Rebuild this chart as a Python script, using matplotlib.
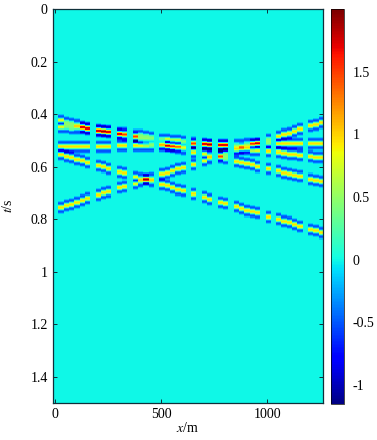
import numpy as np
import matplotlib
matplotlib.use('Agg')
import matplotlib.pyplot as plt
from matplotlib.colors import ListedColormap

plt.rcParams['font.family'] = ['Liberation Serif', 'DejaVu Serif']
plt.rcParams['mathtext.fontset'] = 'stix'

# Section geometry
dt = 0.004
n_samples = 376
n_traces = 51
dx = 25.0

# Traces that carry signal (the rest are dead traces)
traces = [1, 2, 3, 4, 5, 6, 8, 9, 10, 12, 13, 15, 16, 17, 18, 20, 21, 22, 23, 24, 26, 28, 29,
          31, 32, 34, 35, 36, 37, 38, 40, 42, 43, 44, 45, 46, 48, 49, 50]

# Event times picked from the section [s]
event_1 = [.423, .430, .436, .442, .448, .453, .462, .465, .469, .476, .480, .489, .494, .499, .504,
           .513, .518, .523, .527, .532, .542, .551, .556, .565, .570, .580, .584, .589, .594, .599,
           .608, .618, .622, .627, .632, .637, .646, .651, .656]
event_2 = [.449, .450, .451, .452, .453, .454, .460, .463, .466, .471, .474, .479, .482, .485, .488,
           .494, .496, .499, .501, .504, .508, .513, .515, .520, .522, .527, .529, .532, .534, .537,
           .541, .546, .548, .551, .553, .555, .560, .563, .565]
event_flat = [.525, .525, .524, .524, .524, .524, .523, .523, .523, .522, .522, .521, .521, .520, .520,
              .519, .519, .519, .518, .518, .517, .517, .516, .516, .515, .515, .515, .514, .514, .514,
              .513, .513, .512, .512, .512, .511, .511, .510, .510]
event_up = [.755, .748, .742, .735, .728, .722, .709, .702, .695, .682, .676, .662, .656, .649, .643,
            .629, .623, .616, .610, .603, .590, .577, .570, .557, .550, .537, .531, .524, .517, .511,
            .498, .485, .478, .471, .465, .458, .445, .438, .432]
event_down = [.552, .559, .565, .571, .577, .583, .595, .601, .607, .619, .626, .638, .644, .650, .656,
              .668, .674, .680, .686, .692, .705, .717, .723, .735, .741, .753, .759, .766, .772, .778,
              .790, .802, .808, .814, .820, .827, .839, .845, .851]

# Wavelet samples, centred on the pick
wavelet = [-0.15, -0.4, -0.5, -0.3, 0.25, 0.75, 0.95, 0.75, 0.25, -0.3, -0.5, -0.4, -0.15]

# Fill the section
section = np.zeros((n_samples, n_traces))
half = len(wavelet) // 2
for picks in [event_1, event_2, event_flat, event_up, event_down]:
    for k, tp in zip(traces, picks):
        i0 = int(round(tp / dt))
        for j, w in enumerate(wavelet):
            section[i0 + j - half, k] += w

# jet nudged a little so that zero lands on the greener cyan
cmap = ListedColormap(plt.get_cmap('jet')(np.linspace(0.005, 1, 256)))

fig = plt.figure(figsize=(3.77, 4.40), dpi=100)
W, H = 377.0, 440.0
ax = fig.add_axes([52.5 / W, 1 - 403 / H, 270.5 / W, 394 / H])
cax = fig.add_axes([331 / W, 1 - 404 / H, 13 / W, 395 / H])

im = ax.imshow(section, cmap=cmap, vmin=-1.15, vmax=2.0, aspect='auto', interpolation='nearest',
               extent=[-dx / 2, (n_traces - 0.5) * dx, 1.5, 0])

ax.set_xticks([0, 500, 1000])
ax.set_yticks([0, 0.2, 0.4, 0.6, 0.8, 1, 1.2, 1.4])
ax.set_yticklabels(['0', '0.2', '0.4', '0.6', '0.8', '1', '1.2', '1.4'])
ax.tick_params(direction='in', top=True, right=True, length=3, width=0.7, labelsize=10,
               color='#10303a', pad=3.5)
for s in ax.spines.values():
    s.set_linewidth(0.9)
    s.set_color('#10303a')
ax.set_xlabel('$x$/m', fontsize=10, labelpad=0)
ax.set_ylabel('$t$/s', fontsize=10)
ax.yaxis.set_label_coords(-0.14, 0.5)

cb = fig.colorbar(im, cax=cax)
cb.set_ticks([-1, -0.5, 0, 0.5, 1, 1.5])
cb.set_ticklabels(['-1', '-0.5', '0', '0.5', '1', '1.5'])
cb.ax.tick_params(length=0, labelsize=10, pad=6)
cb.outline.set_linewidth(0.5)

fig.savefig('out.png', dpi=100)
